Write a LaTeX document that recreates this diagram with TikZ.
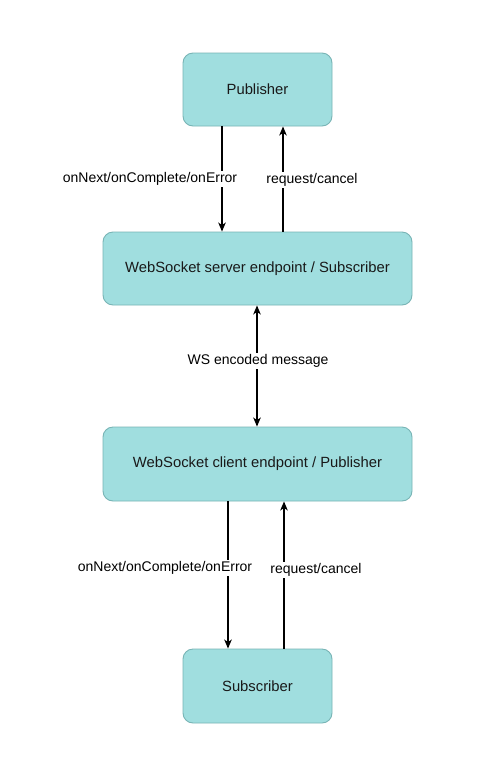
\documentclass[tikz,border=0pt]{standalone}
\usepackage{fontspec}
\setmainfont{Liberation Sans}
\usetikzlibrary{arrows.meta}
\definecolor{boxfill}{HTML}{A0DEDF}
\definecolor{boxline}{HTML}{78B4B5}
\begin{document}
\begin{tikzpicture}[x=1pt,y=-1pt,
  box/.style={draw=boxline, line width=0.9pt, fill=boxfill, rounded corners=10pt,
    font=\fontsize{14.8}{17}\selectfont, text=black!90, inner sep=0pt},
  arr/.style={line width=1.4pt, -{Stealth[length=9pt,width=7.5pt,inset=2.5pt]}},
  darr/.style={line width=1.4pt, {Stealth[length=9pt,width=7.5pt,inset=2.5pt]}-{Stealth[length=9pt,width=7.5pt,inset=2.5pt]}},
  lab/.style={fill=white, inner sep=1.5pt, font=\fontsize{14}{16}\selectfont, text=black}]
\useasboundingbox (0,0) rectangle (500,764);
\fill[white] (0,0) rectangle (500,764);

\node[box, minimum width=149pt, minimum height=73pt] (pub) at (257.5,89.5) {Publisher};
\node[box, minimum width=309pt, minimum height=73pt] (srv) at (257.5,268.5) {WebSocket server endpoint / Subscriber};
\node[box, minimum width=309pt, minimum height=74pt] (cli) at (257.5,464) {WebSocket client endpoint / Publisher};
\node[box, minimum width=149pt, minimum height=74pt] (sub) at (257.5,686) {Subscriber};

% top pair
\draw[arr] ([xshift=-35.5pt]pub.south) -- ([xshift=-35.5pt]pub.south |- srv.north)
  node[lab, midway, xshift=-72pt] (l1) {onNext/onComplete/onError};
\draw[arr] ([xshift=25.5pt]srv.north) -- ([xshift=25.5pt]srv.north |- pub.south)
  node[lab, midway, xshift=29pt, yshift=-1pt] (l2) {request/cancel};

% middle
\draw[darr] ([xshift=-0.5pt]srv.south) -- ([xshift=-0.5pt]cli.north)
  node[lab, midway, xshift=1pt, yshift=5pt] (l3) {WS encoded message};

% bottom pair
\draw[arr] ([xshift=-29.5pt]cli.south) -- ([xshift=-29.5pt]cli.south |- sub.north)
  node[lab, midway, xshift=-63pt, yshift=7pt] (l4) {onNext/onComplete/onError};
\draw[arr] ([xshift=26.5pt]sub.north) -- ([xshift=26.5pt]sub.north |- cli.south)
  node[lab, midway, xshift=32pt, yshift=5pt] (l5) {request/cancel};
\end{tikzpicture}
\end{document}
